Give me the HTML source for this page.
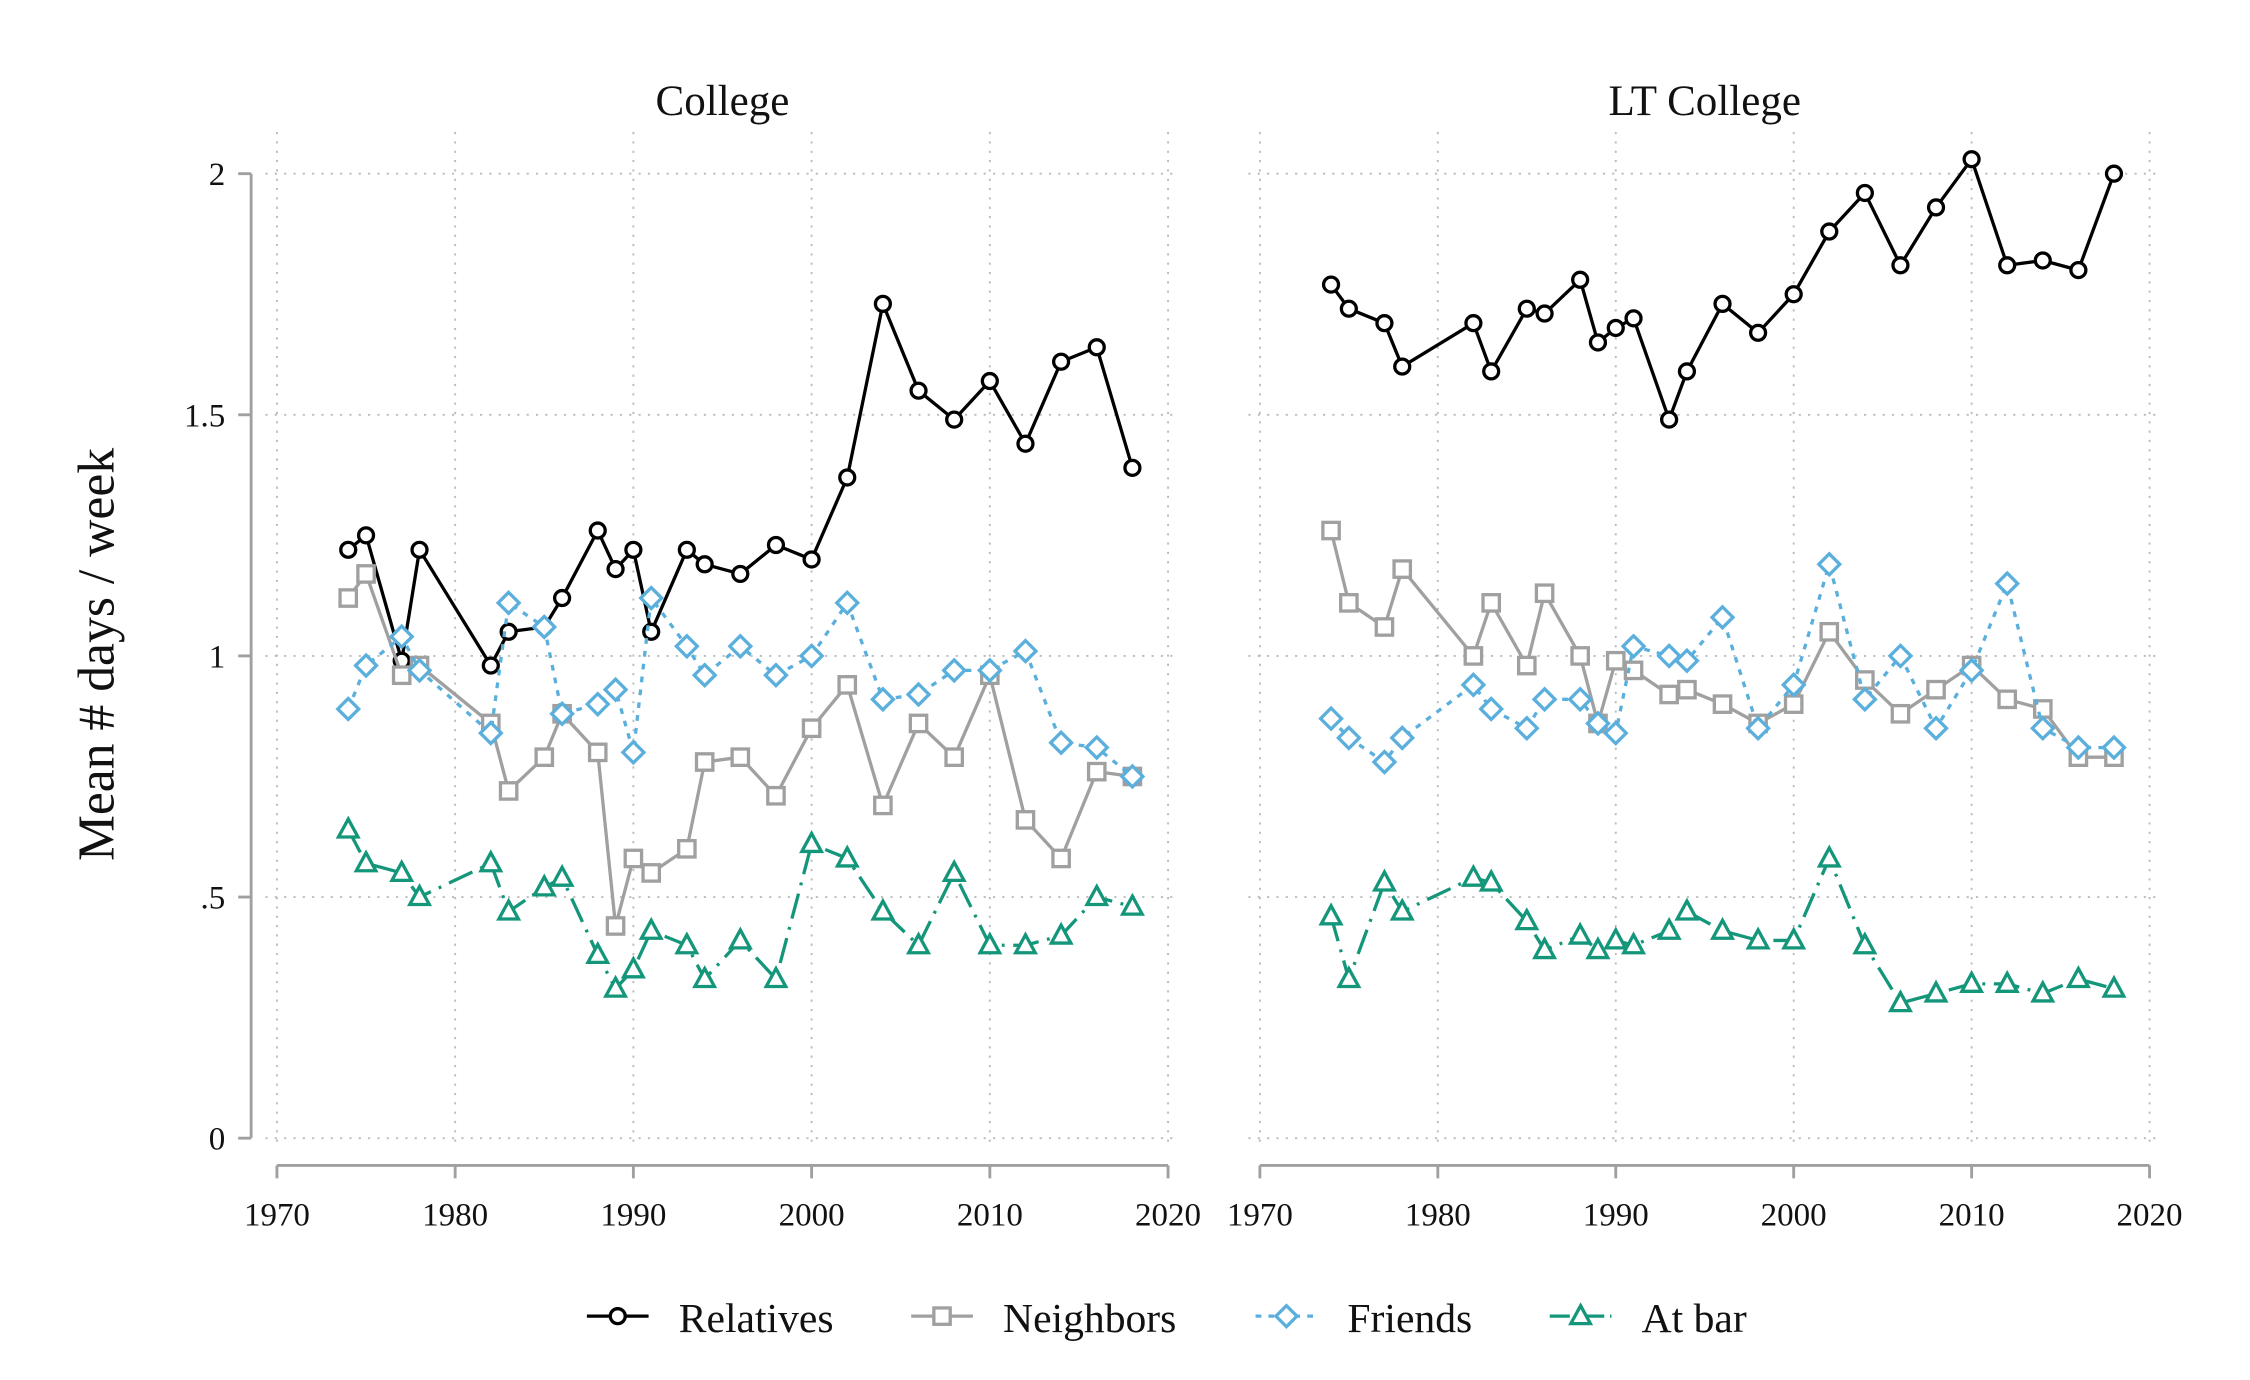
<!DOCTYPE html>
<html><head><meta charset="utf-8"><style>
html,body{margin:0;padding:0;background:#fff;width:2250px;height:1380px;overflow:hidden}
svg{display:block}
text{font-family:"Liberation Serif",serif;fill:#111}
</style></head><body>
<svg id="chart" width="2250" height="1380" viewBox="0 0 1568 961.5" preserveAspectRatio="none" xmlns="http://www.w3.org/2000/svg"></svg>
<script>
const years=[1974,1975,1977,1978,1982,1983,1985,1986,1988,1989,1990,1991,1993,1994,1996,1998,2000,2002,2004,2006,2008,2010,2012,2014,2016,2018];
const xTicks=[1970,1980,1990,2000,2010,2020];
const yTicks=[0,0.5,1,1.5,2];
const yTickLabels=["0",".5","1","1.5","2"];
const panelTitles=["College","LT College"];
const seriesNames=["Relatives","Neighbors","Friends","At bar"];
const colRelatives=[1.22,1.25,0.99,1.22,0.98,1.05,1.06,1.12,1.26,1.18,1.22,1.05,1.22,1.19,1.17,1.23,1.20,1.37,1.73,1.55,1.49,1.57,1.44,1.61,1.64,1.39];
const colNeighbors=[1.12,1.17,0.96,0.98,0.86,0.72,0.79,0.88,0.80,0.44,0.58,0.55,0.60,0.78,0.79,0.71,0.85,0.94,0.69,0.86,0.79,0.96,0.66,0.58,0.76,0.75];
const colFriends=[0.89,0.98,1.04,0.97,0.84,1.11,1.06,0.88,0.90,0.93,0.80,1.12,1.02,0.96,1.02,0.96,1.00,1.11,0.91,0.92,0.97,0.97,1.01,0.82,0.81,0.75];
const colBar=[0.64,0.57,0.55,0.50,0.57,0.47,0.52,0.54,0.38,0.31,0.35,0.43,0.40,0.33,0.41,0.33,0.61,0.58,0.47,0.40,0.55,0.40,0.40,0.42,0.50,0.48];
const ltRelatives=[1.77,1.72,1.69,1.60,1.69,1.59,1.72,1.71,1.78,1.65,1.68,1.70,1.49,1.59,1.73,1.67,1.75,1.88,1.96,1.81,1.93,2.03,1.81,1.82,1.80,2.00];
const ltNeighbors=[1.26,1.11,1.06,1.18,1.00,1.11,0.98,1.13,1.00,0.86,0.99,0.97,0.92,0.93,0.90,0.86,0.90,1.05,0.95,0.88,0.93,0.98,0.91,0.89,0.79,0.79];
const ltFriends=[0.87,0.83,0.78,0.83,0.94,0.89,0.85,0.91,0.91,0.86,0.84,1.02,1.00,0.99,1.08,0.85,0.94,1.19,0.91,1.00,0.85,0.97,1.15,0.85,0.81,0.81];
const ltBar=[0.46,0.33,0.53,0.47,0.54,0.53,0.45,0.39,0.42,0.39,0.41,0.40,0.43,0.47,0.43,0.41,0.41,0.58,0.40,0.28,0.30,0.32,0.32,0.30,0.33,0.31];

const NS="http://www.w3.org/2000/svg";
const svg=document.getElementById('chart');
function el(tag,attrs,parent){const e=document.createElementNS(NS,tag);for(const k in attrs)e.setAttribute(k,attrs[k]);(parent||svg).appendChild(e);return e;}
const styles=[
 {color:"#000",dash:"",marker:"circle"},
 {color:"#a0a0a0",dash:"",marker:"square"},
 {color:"#5aafdc",dash:"4,5",marker:"diamond"},
 {color:"#14967a",dash:"18,6,2,6",marker:"triangle"}];
const yScale=v=>793-v*336;
function drawMarker(g,type,x,y,color){
  let m;
  const a={fill:"#fff",stroke:color,"stroke-width":2.3};
  if(type==="circle"){m=el('circle',Object.assign({cx:x,cy:y,r:5.2},a),g);}
  else if(type==="square"){m=el('rect',Object.assign({x:x-5.7,y:y-5.7,width:11.4,height:11.4},a),g);}
  else if(type==="diamond"){m=el('polygon',Object.assign({points:`${x},${y-7.3} ${x+7.3},${y} ${x},${y+7.3} ${x-7.3},${y}`},a),g);}
  else {m=el('polygon',Object.assign({points:`${x},${y-7.3} ${x+6.8},${y+5.2} ${x-6.8},${y+5.2}`},a),g);}
  return m;
}
const panels=[
 {x0:193,x1:814,data:[colRelatives,colNeighbors,colFriends,colBar],yaxis:true,name:"college"},
 {x0:878,x1:1498,data:[ltRelatives,ltNeighbors,ltFriends,ltBar],yaxis:false,name:"lt-college"}];
panels.forEach((p,pi)=>{
  const g=el('g',{});
  
  
  const xScale=yr=>p.x0+(yr-1970)/50*(p.x1-p.x0);
  const t=el('text',{x:(p.x0+p.x1)/2,y:80,"text-anchor":"middle","font-size":30},g);
  t.textContent=panelTitles[pi];
  
  
  xTicks.forEach(v=>{el('line',{x1:xScale(v),x2:xScale(v),y1:92,y2:800,stroke:"#bbb","stroke-width":1.3,"stroke-dasharray":"1.5,5"},g);});
  yTicks.forEach(v=>{el('line',{x1:p.x0-8,x2:p.x1+8,y1:yScale(v),y2:yScale(v),stroke:"#bbb","stroke-width":1.3,"stroke-dasharray":"1.5,5"},g);});
  const xa=el('g',{},g);
  
  
  el('line',{x1:p.x0,x2:p.x1,y1:812,y2:812,stroke:"#a0a0a0","stroke-width":2},xa);
  xTicks.forEach(v=>{
    el('line',{x1:xScale(v),x2:xScale(v),y1:812,y2:821,stroke:"#a0a0a0","stroke-width":2},xa);
    const tt=el('text',{x:xScale(v),y:854,"text-anchor":"middle","font-size":23},xa);tt.textContent=v;
  });
  if(p.yaxis){
    const ya=el('g',{},g);
    
    
    el('line',{x1:175,x2:175,y1:yScale(2),y2:yScale(0),stroke:"#a0a0a0","stroke-width":2},ya);
    yTicks.forEach((v,i)=>{
      el('line',{x1:166,x2:175,y1:yScale(v),y2:yScale(v),stroke:"#a0a0a0","stroke-width":2},ya);
      const tt=el('text',{x:157,y:yScale(v)+8,"text-anchor":"end","font-size":23},ya);tt.textContent=yTickLabels[i];
    });
  }
  p.data.forEach((arr,si)=>{
    const s=styles[si];
    const sg=el('g',{},g);
    
    
    const pts=arr.map((v,i)=>xScale(years[i])+","+yScale(v)).join(" ");
    const a={points:pts,fill:"none",stroke:s.color,"stroke-width":2.3,"stroke-linejoin":"round"};
    if(s.dash)a["stroke-dasharray"]=s.dash;
    el('polyline',a,sg);
    arr.forEach((v,i)=>{
      const m=drawMarker(sg,s.marker,xScale(years[i]),yScale(v),s.color);
      
      
    });
  });
});
const yt=el('text',{x:0,y:0,"text-anchor":"middle","font-size":36,transform:"translate(79,456) rotate(-90)"});
yt.textContent="Mean # days / week";


const lg=el('g',{});


const legX=[409,635,875,1080];
seriesNames.forEach((n,i)=>{
  const s=styles[i];
  const eg=el('g',{},lg);
  
  
  const a={x1:legX[i],x2:legX[i]+43,y1:917,y2:917,stroke:s.color,"stroke-width":2.3};
  if(s.dash)a["stroke-dasharray"]=i===2?"4,5":"14,4,2,4";
  el('line',a,eg);
  drawMarker(eg,s.marker,legX[i]+21.5,917,s.color);
  const tt=el('text',{x:legX[i]+64,y:928,"font-size":29},eg);tt.textContent=n;
});
</script>
</body></html>
